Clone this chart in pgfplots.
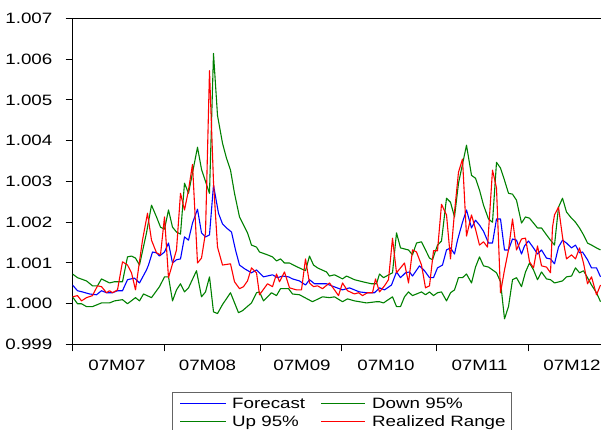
\documentclass[border=0pt]{standalone}
\usepackage{fontspec}
\setmainfont{Liberation Sans}[FakeStretch=1.25]
\usepackage{pgfplots}
\pgfplotsset{compat=1.18}
\definecolor{fblue}{RGB}{0,0,255}
\definecolor{fgreen}{RGB}{0,128,0}
\definecolor{fred}{RGB}{255,0,0}
\definecolor{boxgray}{RGB}{100,100,100}
\newcommand{\lblfont}{\fontsize{15}{17}\selectfont}
\begin{document}
\begin{tikzpicture}[x=1pt,y=1pt]
\useasboundingbox (0,0) rectangle (601,430);
% legend, drawn by hand below the axis
\fill[fblue] (180,25.8) rectangle (226,27.2);
\fill[fgreen] (321,25.8) rectangle (365,27.2);
\fill[fgreen] (180,7.8) rectangle (226,9.2);
\fill[fred] (321,7.8) rectangle (365,9.2);
\draw[boxgray, line width=1pt] (172.5,-6) -- (172.5,37.5) -- (511.5,37.5) -- (511.5,-6);
\node[font=\lblfont, inner sep=0pt, anchor=base west] at (232,21) {Forecast};
\node[font=\lblfont, inner sep=0pt, anchor=base west] at (372,21) {Down 95\%};
\node[font=\lblfont, inner sep=0pt, anchor=base west] at (232,3) {Up 95\%};
\node[font=\lblfont, inner sep=0pt, anchor=base west] at (372,3) {Realized Range};
\begin{axis}[
  at={(72.5pt,85.5pt)}, anchor=south west,
  scale only axis, width=543pt, height=326pt,
  xmin=73, xmax=616, ymin=0.999, ymax=1.007,
  axis line style={line width=1pt},
  tick align=outside, major tick length=7pt,
  tick style={black, line width=1pt},
  xtick pos=bottom, ytick pos=left,
  ytick={0.999,1.000,1.001,1.002,1.003,1.004,1.005,1.006,1.007},
  yticklabels={0.999,1.000,1.001,1.002,1.003,1.004,1.005,1.006,1.007},
  xtick={73,165,261,342,437,529},
  xticklabels={},
  extra x ticks={117.5,208,302.5,386.5,480,572.5},
  extra x tick labels={07M07,07M08,07M09,07M10,07M11,07M12},
  extra x tick style={major tick length=0pt},
  xticklabel style={font=\lblfont, inner sep=0pt, anchor=base, yshift=-26pt},
  yticklabel style={font=\lblfont, inner sep=0pt, anchor=east, xshift=-13pt},
  every axis plot/.append style={line width=1.1pt, line join=round},
]
\addplot[fblue] table {
x y
73 1.00046
78 1.00032
83 1.00029
90 1.00024
97 1.00022
102 1.00032
107 1.00027
113 1.00027
118 1.00032
123 1.00032
128 1.00059
135 1.00063
140 1.00051
147 1.00083
149 1.00095
153 1.00127
157 1.00125
160 1.00117
165 1.00127
169 1.00149
173 1.00100
177 1.00108
181 1.00110
185 1.00164
189 1.00156
193 1.00198
198 1.00232
202 1.00174
206 1.00164
210 1.00169
214 1.00291
219 1.00222
223 1.00196
227 1.00186
232 1.00176
236 1.00132
240 1.00095
245 1.00086
252 1.00076
257 1.00083
264 1.00066
273 1.00071
278 1.00064
283 1.00068
289 1.00066
293 1.00061
300 1.00056
306 1.00046
310 1.00059
315 1.00049
327 1.00049
330 1.00046
343 1.00034
350 1.00039
360 1.00029
367 1.00027
375 1.00027
380 1.00039
385 1.00034
392 1.00046
397 1.00078
401 1.00064
406 1.00076
410 1.00078
413 1.00068
420 1.00093
425 1.00081
430 1.00064
434 1.00064
438 1.00088
443 1.00095
447 1.00132
451 1.00137
455 1.00122
458 1.00156
463 1.00200
467 1.00230
472 1.00186
476 1.00205
480 1.00193
484 1.00178
489 1.00149
493 1.00149
497 1.00208
501 1.00208
505 1.00132
509 1.00132
513 1.00159
517 1.00156
522 1.00122
525 1.00142
529 1.00154
534 1.00137
538 1.00122
542 1.00132
547 1.00112
551 1.00110
555 1.00098
559 1.00139
563 1.00156
567 1.00149
572 1.00137
576 1.00144
580 1.00125
583 1.00127
588 1.00108
592 1.00088
597 1.00088
601 1.00066
};
\addplot[fgreen] table {
x y
73 1.00017
78 1.00000
82 1.00000
87 0.99993
93 0.99993
102 1.00002
110 1.00002
115 1.00007
123 1.00010
128 1.00000
136 1.00015
140 1.00007
144 1.00024
152 1.00015
160 1.00042
165 1.00066
169 1.00066
173 1.00007
177 1.00034
181 1.00049
185 1.00029
189 1.00039
197 1.00081
202 1.00017
206 1.00029
210 1.00066
214 0.99980
218 0.99976
223 0.99998
231 1.00027
239 0.99978
243 0.99983
252 1.00002
257 1.00027
260 1.00029
264 1.00007
272 1.00027
277 1.00020
281 1.00037
289 1.00037
293 1.00024
300 1.00022
313 1.00005
323 1.00017
330 1.00015
335 1.00017
343 1.00005
348 1.00012
355 1.00007
360 1.00005
367 1.00002
377 1.00005
380 1.00005
384 1.00002
393 1.00017
397 0.99993
401 0.99993
405 1.00017
409 1.00029
413 1.00020
422 1.00029
426 1.00022
430 1.00029
434 1.00020
438 1.00027
442 1.00029
447 1.00007
451 1.00027
455 1.00034
459 1.00064
463 1.00064
467 1.00073
472 1.00051
476 1.00090
480 1.00115
484 1.00093
489 1.00090
493 1.00083
497 1.00076
501 1.00054
505 0.99963
509 0.99993
513 1.00059
517 1.00064
522 1.00042
526 1.00078
530 1.00100
534 1.00083
538 1.00059
542 1.00078
547 1.00061
551 1.00059
555 1.00051
563 1.00056
567 1.00066
572 1.00068
576 1.00088
580 1.00076
584 1.00081
588 1.00064
592 1.00046
597 1.00027
601 1.00005
};
\addplot[fgreen] table {
x y
73 1.00073
78 1.00064
87 1.00056
93 1.00044
98 1.00044
102 1.00061
110 1.00051
115 1.00054
123 1.00054
128 1.00115
132 1.00117
136 1.00112
140 1.00095
147 1.00174
152 1.00242
157 1.00213
161 1.00188
165 1.00183
169 1.00230
173 1.00188
177 1.00176
181 1.00171
185 1.00296
189 1.00271
198 1.00384
202 1.00330
210 1.00271
214 1.00614
218 1.00462
223 1.00394
227 1.00357
231 1.00328
235 1.00271
240 1.00213
248 1.00174
252 1.00144
257 1.00139
260 1.00127
268 1.00120
273 1.00115
277 1.00105
281 1.00110
285 1.00100
290 1.00100
298 1.00090
306 1.00081
310 1.00117
314 1.00095
318 1.00088
327 1.00078
330 1.00068
335 1.00071
343 1.00061
347 1.00068
355 1.00059
363 1.00054
372 1.00049
377 1.00049
380 1.00073
384 1.00064
393 1.00076
397 1.00174
401 1.00137
409 1.00132
413 1.00120
417 1.00149
422 1.00152
430 1.00112
433 1.00108
438 1.00144
442 1.00154
447 1.00259
451 1.00249
455 1.00213
459 1.00296
467 1.00389
472 1.00315
476 1.00308
480 1.00279
484 1.00242
489 1.00208
493 1.00200
497 1.00347
501 1.00333
505 1.00303
509 1.00271
513 1.00269
517 1.00254
522 1.00198
526 1.00213
530 1.00210
534 1.00198
538 1.00186
542 1.00186
547 1.00169
551 1.00156
555 1.00144
559 1.00237
563 1.00259
567 1.00225
572 1.00210
576 1.00200
580 1.00186
584 1.00169
588 1.00149
592 1.00144
597 1.00137
601 1.00132
};
\addplot[fred] table {
x y
73 1.00017
78 1.00020
82 1.00007
87 1.00015
93 1.00020
98 1.00044
102 1.00042
107 1.00027
110 1.00032
113 1.00027
118 1.00034
123 1.00103
128 1.00095
132 1.00076
136 1.00034
143 1.00156
148 1.00222
152 1.00156
157 1.00125
161 1.00120
165 1.00213
169 1.00064
177 1.00132
181 1.00271
185 1.00230
189 1.00279
193 1.00342
198 1.00100
202 1.00112
206 1.00174
210 1.00572
214 1.00298
218 1.00139
223 1.00095
231 1.00098
235 1.00054
240 1.00037
244 1.00042
248 1.00056
252 1.00088
257 1.00076
260 1.00022
268 1.00049
273 1.00042
277 1.00073
280 1.00054
285 1.00078
290 1.00039
297 1.00034
302 1.00034
306 1.00110
310 1.00051
314 1.00042
318 1.00044
323 1.00037
330 1.00051
335 1.00034
339 1.00020
343 1.00051
348 1.00032
355 1.00024
359 1.00027
363 1.00020
368 1.00027
373 1.00027
376 1.00061
380 1.00029
385 1.00044
389 1.00059
393 1.00161
397 1.00076
401 1.00088
405 1.00100
409 1.00051
413 1.00132
417 1.00127
422 1.00095
426 1.00039
430 1.00044
434 1.00130
438 1.00130
442 1.00244
447 1.00218
451 1.00110
455 1.00225
459 1.00323
463 1.00355
467 1.00166
472 1.00218
476 1.00183
480 1.00144
484 1.00152
488 1.00139
493 1.00328
497 1.00284
501 1.00027
505 1.00083
509 1.00132
513 1.00208
517 1.00132
522 1.00159
526 1.00161
530 1.00103
534 1.00088
538 1.00142
542 1.00093
547 1.00090
551 1.00076
553 1.00188
555 1.00218
559 1.00237
563 1.00164
567 1.00110
572 1.00120
576 1.00110
580 1.00137
584 1.00100
588 1.00049
592 1.00066
597 1.00022
601 1.00046
};
\end{axis}
\end{tikzpicture}
\end{document}
